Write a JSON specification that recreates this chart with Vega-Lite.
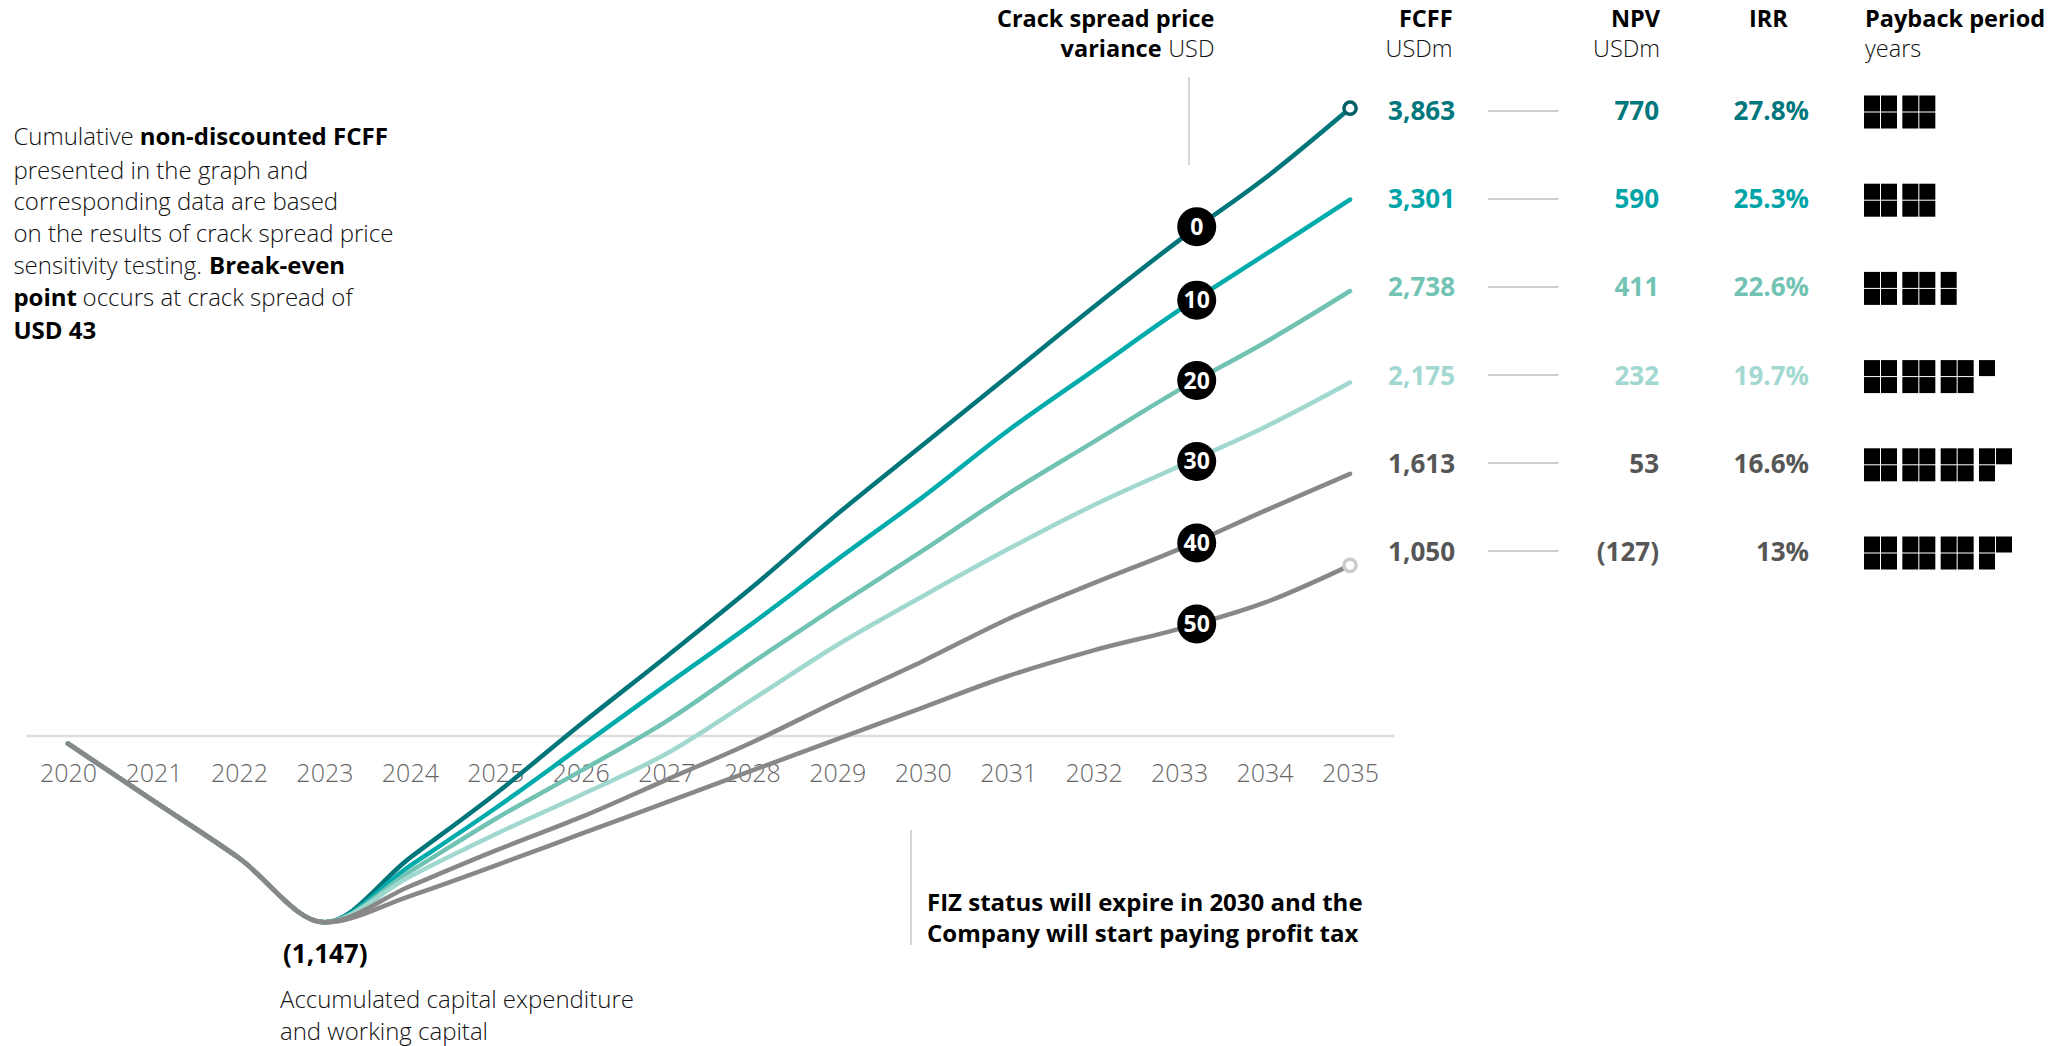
{
  "$schema": "https://vega.github.io/schema/vega-lite/v6.json",
  "width": 2071,
  "height": 1046,
  "autosize": {"type": "none"},
  "padding": 0,
  "background": "white",
  "config": {"view": {"stroke": null}, "font": "Open Sans"},
  "datasets": {
    "baseline": [{"from": 2019.513, "to": 2035.523, "value": 0}],
    "fcff": [
      {"variance": "0", "year": 2020, "value": -47}, {"variance": "0", "year": 2021, "value": -400}, {"variance": "0", "year": 2022, "value": -751}, {"variance": "0", "year": 2023, "value": -1147},
      {"variance": "0", "year": 2024, "value": -750}, {"variance": "0", "year": 2025, "value": -357}, {"variance": "0", "year": 2026, "value": 72}, {"variance": "0", "year": 2027, "value": 488},
      {"variance": "0", "year": 2028, "value": 913}, {"variance": "0", "year": 2029, "value": 1365}, {"variance": "0", "year": 2030, "value": 1790}, {"variance": "0", "year": 2031, "value": 2215},
      {"variance": "0", "year": 2032, "value": 2640}, {"variance": "0", "year": 2033, "value": 3050}, {"variance": "0", "year": 2034, "value": 3430}, {"variance": "0", "year": 2035, "value": 3863},
      {"variance": "10", "year": 2020, "value": -47}, {"variance": "10", "year": 2021, "value": -400}, {"variance": "10", "year": 2022, "value": -751}, {"variance": "10", "year": 2023, "value": -1147},
      {"variance": "10", "year": 2024, "value": -800}, {"variance": "10", "year": 2025, "value": -445}, {"variance": "10", "year": 2026, "value": -66}, {"variance": "10", "year": 2027, "value": 314},
      {"variance": "10", "year": 2028, "value": 690}, {"variance": "10", "year": 2029, "value": 1085}, {"variance": "10", "year": 2030, "value": 1470}, {"variance": "10", "year": 2031, "value": 1880},
      {"variance": "10", "year": 2032, "value": 2250}, {"variance": "10", "year": 2033, "value": 2620}, {"variance": "10", "year": 2034, "value": 2960}, {"variance": "10", "year": 2035, "value": 3301},
      {"variance": "20", "year": 2020, "value": -47}, {"variance": "20", "year": 2021, "value": -400}, {"variance": "20", "year": 2022, "value": -751}, {"variance": "20", "year": 2023, "value": -1147},
      {"variance": "20", "year": 2024, "value": -835}, {"variance": "20", "year": 2025, "value": -511}, {"variance": "20", "year": 2026, "value": -215}, {"variance": "20", "year": 2027, "value": 90},
      {"variance": "20", "year": 2028, "value": 450}, {"variance": "20", "year": 2029, "value": 800}, {"variance": "20", "year": 2030, "value": 1140}, {"variance": "20", "year": 2031, "value": 1490},
      {"variance": "20", "year": 2032, "value": 1810}, {"variance": "20", "year": 2033, "value": 2130}, {"variance": "20", "year": 2034, "value": 2420}, {"variance": "20", "year": 2035, "value": 2738},
      {"variance": "30", "year": 2020, "value": -47}, {"variance": "30", "year": 2021, "value": -400}, {"variance": "30", "year": 2022, "value": -751}, {"variance": "30", "year": 2023, "value": -1147},
      {"variance": "30", "year": 2024, "value": -865}, {"variance": "30", "year": 2025, "value": -605}, {"variance": "30", "year": 2026, "value": -363}, {"variance": "30", "year": 2027, "value": -110},
      {"variance": "30", "year": 2028, "value": 222}, {"variance": "30", "year": 2029, "value": 560}, {"variance": "30", "year": 2030, "value": 860}, {"variance": "30", "year": 2031, "value": 1150},
      {"variance": "30", "year": 2032, "value": 1420}, {"variance": "30", "year": 2033, "value": 1660}, {"variance": "30", "year": 2034, "value": 1900}, {"variance": "30", "year": 2035, "value": 2175},
      {"variance": "40", "year": 2020, "value": -47}, {"variance": "40", "year": 2021, "value": -400}, {"variance": "40", "year": 2022, "value": -751}, {"variance": "40", "year": 2023, "value": -1147},
      {"variance": "40", "year": 2024, "value": -925}, {"variance": "40", "year": 2025, "value": -706}, {"variance": "40", "year": 2026, "value": -500}, {"variance": "40", "year": 2027, "value": -270},
      {"variance": "40", "year": 2028, "value": -40}, {"variance": "40", "year": 2029, "value": 215}, {"variance": "40", "year": 2030, "value": 460}, {"variance": "40", "year": 2031, "value": 720},
      {"variance": "40", "year": 2032, "value": 940}, {"variance": "40", "year": 2033, "value": 1150}, {"variance": "40", "year": 2034, "value": 1385}, {"variance": "40", "year": 2035, "value": 1613},
      {"variance": "50", "year": 2020, "value": -47}, {"variance": "50", "year": 2021, "value": -400}, {"variance": "50", "year": 2022, "value": -751}, {"variance": "50", "year": 2023, "value": -1147},
      {"variance": "50", "year": 2024, "value": -985}, {"variance": "50", "year": 2025, "value": -798}, {"variance": "50", "year": 2026, "value": -603}, {"variance": "50", "year": 2027, "value": -409},
      {"variance": "50", "year": 2028, "value": -214}, {"variance": "50", "year": 2029, "value": -20}, {"variance": "50", "year": 2030, "value": 175}, {"variance": "50", "year": 2031, "value": 369},
      {"variance": "50", "year": 2032, "value": 527}, {"variance": "50", "year": 2033, "value": 659}, {"variance": "50", "year": 2034, "value": 820}, {"variance": "50", "year": 2035, "value": 1050}
    ],
    "ends": [{"variance": "0", "year": 2035, "value": 3863}, {"variance": "50", "year": 2035, "value": 1050}],
    "badges": [
      {"variance": "0", "year": 2033.206, "value": 3134}, {"variance": "10", "year": 2033.206, "value": 2682},
      {"variance": "20", "year": 2033.206, "value": 2187}, {"variance": "30", "year": 2033.206, "value": 1689},
      {"variance": "40", "year": 2033.206, "value": 1188}, {"variance": "50", "year": 2033.206, "value": 689}
    ],
    "vrules": [{"year": 2033.116, "top": 4055, "bottom": 3514}, {"year": 2029.863, "top": -578, "bottom": -1286}],
    "notes_light_left": [
      {"text": "Cumulative", "year": 2019.3612, "value": 3678},
      {"text": "presented in the graph and", "year": 2019.3612, "value": 3473},
      {"text": "corresponding data are based", "year": 2019.3612, "value": 3278},
      {"text": "on the results of crack spread price", "year": 2019.3612, "value": 3083},
      {"text": "sensitivity testing.", "year": 2019.3612, "value": 2888},
      {"text": "occurs at crack spread of", "year": 2020.171, "value": 2689},
      {"text": "Accumulated capital expenditure", "year": 2022.48, "value": -1631},
      {"text": "and working capital", "year": 2022.48, "value": -1831}
    ],
    "notes_bold_left": [
      {"text": "non-discounted FCFF", "year": 2020.839, "value": 3678},
      {"text": "Break-even", "year": 2021.65, "value": 2888},
      {"text": "point", "year": 2019.3612, "value": 2689},
      {"text": "USD 43", "year": 2019.3612, "value": 2488},
      {"text": "FIZ status will expire in 2030 and the", "year": 2030.05, "value": -1034},
      {"text": "Company will start paying profit tax", "year": 2030.05, "value": -1225}
    ],
    "notes_bold_large": [{"text": "(1,147)", "year": 2022.516, "value": -1348}],
    "head_bold_left": [
      {"text": "IRR", "year": 2039.668, "value": 4406},
      {"text": "Payback period", "year": 2041.025, "value": 4406}
    ],
    "head_light_left": [{"text": "years", "year": 2041.025, "value": 4222}],
    "head_bold_right": [
      {"text": "Crack spread price", "year": 2033.414, "value": 4406},
      {"text": "variance", "year": 2032.795, "value": 4222},
      {"text": "FCFF", "year": 2036.2, "value": 4406},
      {"text": "NPV", "year": 2038.627, "value": 4406}
    ],
    "head_light_right": [
      {"text": "USD", "year": 2033.414, "value": 4222},
      {"text": "USDm", "year": 2036.2, "value": 4222},
      {"text": "USDm", "year": 2038.627, "value": 4222}
    ],
    "table": [
      {"variance": "0", "fcff": "3,863", "npv": "770", "irr": "27.8%"},
      {"variance": "10", "fcff": "3,301", "npv": "590", "irr": "25.3%"},
      {"variance": "20", "fcff": "2,738", "npv": "411", "irr": "22.6%"},
      {"variance": "30", "fcff": "2,175", "npv": "232", "irr": "19.7%"},
      {"variance": "40", "fcff": "1,613", "npv": "53", "irr": "16.6%"},
      {"variance": "50", "fcff": "1,050", "npv": "(127)", "irr": "13%"}
    ],
    "payback": [
      {"variance": "0", "block": 0, "half": 0, "sub": 0}, {"variance": "0", "block": 0, "half": 1, "sub": 0}, {"variance": "0", "block": 0, "half": 0, "sub": 1}, {"variance": "0", "block": 0, "half": 1, "sub": 1},
      {"variance": "0", "block": 1, "half": 0, "sub": 0}, {"variance": "0", "block": 1, "half": 1, "sub": 0}, {"variance": "0", "block": 1, "half": 0, "sub": 1}, {"variance": "0", "block": 1, "half": 1, "sub": 1},
      {"variance": "10", "block": 0, "half": 0, "sub": 0}, {"variance": "10", "block": 0, "half": 1, "sub": 0}, {"variance": "10", "block": 0, "half": 0, "sub": 1}, {"variance": "10", "block": 0, "half": 1, "sub": 1},
      {"variance": "10", "block": 1, "half": 0, "sub": 0}, {"variance": "10", "block": 1, "half": 1, "sub": 0}, {"variance": "10", "block": 1, "half": 0, "sub": 1}, {"variance": "10", "block": 1, "half": 1, "sub": 1},
      {"variance": "20", "block": 0, "half": 0, "sub": 0}, {"variance": "20", "block": 0, "half": 1, "sub": 0}, {"variance": "20", "block": 0, "half": 0, "sub": 1}, {"variance": "20", "block": 0, "half": 1, "sub": 1},
      {"variance": "20", "block": 1, "half": 0, "sub": 0}, {"variance": "20", "block": 1, "half": 1, "sub": 0}, {"variance": "20", "block": 1, "half": 0, "sub": 1}, {"variance": "20", "block": 1, "half": 1, "sub": 1},
      {"variance": "20", "block": 2, "half": 0, "sub": 0}, {"variance": "20", "block": 2, "half": 0, "sub": 1},
      {"variance": "30", "block": 0, "half": 0, "sub": 0}, {"variance": "30", "block": 0, "half": 1, "sub": 0}, {"variance": "30", "block": 0, "half": 0, "sub": 1}, {"variance": "30", "block": 0, "half": 1, "sub": 1},
      {"variance": "30", "block": 1, "half": 0, "sub": 0}, {"variance": "30", "block": 1, "half": 1, "sub": 0}, {"variance": "30", "block": 1, "half": 0, "sub": 1}, {"variance": "30", "block": 1, "half": 1, "sub": 1},
      {"variance": "30", "block": 2, "half": 0, "sub": 0}, {"variance": "30", "block": 2, "half": 1, "sub": 0}, {"variance": "30", "block": 2, "half": 0, "sub": 1}, {"variance": "30", "block": 2, "half": 1, "sub": 1},
      {"variance": "30", "block": 3, "half": 0, "sub": 0},
      {"variance": "40", "block": 0, "half": 0, "sub": 0}, {"variance": "40", "block": 0, "half": 1, "sub": 0}, {"variance": "40", "block": 0, "half": 0, "sub": 1}, {"variance": "40", "block": 0, "half": 1, "sub": 1},
      {"variance": "40", "block": 1, "half": 0, "sub": 0}, {"variance": "40", "block": 1, "half": 1, "sub": 0}, {"variance": "40", "block": 1, "half": 0, "sub": 1}, {"variance": "40", "block": 1, "half": 1, "sub": 1},
      {"variance": "40", "block": 2, "half": 0, "sub": 0}, {"variance": "40", "block": 2, "half": 1, "sub": 0}, {"variance": "40", "block": 2, "half": 0, "sub": 1}, {"variance": "40", "block": 2, "half": 1, "sub": 1},
      {"variance": "40", "block": 3, "half": 0, "sub": 0}, {"variance": "40", "block": 3, "half": 1, "sub": 0}, {"variance": "40", "block": 3, "half": 0, "sub": 1},
      {"variance": "50", "block": 0, "half": 0, "sub": 0}, {"variance": "50", "block": 0, "half": 1, "sub": 0}, {"variance": "50", "block": 0, "half": 0, "sub": 1}, {"variance": "50", "block": 0, "half": 1, "sub": 1},
      {"variance": "50", "block": 1, "half": 0, "sub": 0}, {"variance": "50", "block": 1, "half": 1, "sub": 0}, {"variance": "50", "block": 1, "half": 0, "sub": 1}, {"variance": "50", "block": 1, "half": 1, "sub": 1},
      {"variance": "50", "block": 2, "half": 0, "sub": 0}, {"variance": "50", "block": 2, "half": 1, "sub": 0}, {"variance": "50", "block": 2, "half": 0, "sub": 1}, {"variance": "50", "block": 2, "half": 1, "sub": 1},
      {"variance": "50", "block": 3, "half": 0, "sub": 0}, {"variance": "50", "block": 3, "half": 1, "sub": 0}, {"variance": "50", "block": 3, "half": 0, "sub": 1}
    ]
  },
  "resolve": {"scale": {"x": "independent", "y": "independent", "color": "independent", "stroke": "independent"}, "axis": {"x": "independent", "y": "independent"}},
  "layer": [
    {
      "data": {"name": "baseline"},
      "mark": {"type": "rule", "color": "#DDDDDD", "strokeWidth": 2.5},
      "encoding": {
        "x": {"field": "from", "type": "quantitative", "scale": {"domain": [2019.2044, 2043.435], "nice": false, "zero": false}, "axis": null},
        "x2": {"field": "to"},
        "y": {"field": "value", "type": "quantitative", "scale": {"domain": [-1908, 4529], "nice": false, "zero": false}, "axis": null}
      }
    },
    {
      "data": {"name": "fcff"},
      "mark": {"type": "line", "interpolate": "monotone", "strokeWidth": 4.5, "strokeCap": "round", "strokeJoin": "round"},
      "encoding": {
        "x": {"field": "year", "type": "quantitative", "scale": {"domain": [2019.2044, 2043.435], "nice": false, "zero": false},
          "axis": {"orient": "bottom", "offset": -310, "values": [2020, 2021, 2022, 2023, 2024, 2025, 2026, 2027, 2028, 2029, 2030, 2031, 2032, 2033, 2034, 2035], "format": "d", "domain": false, "ticks": false, "tickSize": 0, "grid": false, "title": null, "labelFont": "Open Sans", "labelFontWeight": 300, "labelFontSize": 25, "labelColor": "#666666", "labelPadding": 37, "labelBaseline": "middle", "labelFlush": false, "labelOverlap": false}},
        "y": {"field": "value", "type": "quantitative", "scale": {"domain": [-1908, 4529], "nice": false, "zero": false}, "axis": null},
        "color": {"field": "variance", "type": "nominal", "scale": {"domain": ["0", "10", "20", "30", "40", "50"], "range": ["#00757A", "#00ABAB", "#70C3B3", "#A0D8D0", "#888888", "#888888"]}, "legend": null},
        "detail": {"field": "variance"}
      }
    },
    {
      "data": {"name": "ends"},
      "mark": {"type": "point", "shape": "circle", "filled": false, "fill": "white", "fillOpacity": 1, "size": 150, "strokeWidth": 3.5, "opacity": 1},
      "encoding": {
        "x": {"field": "year", "type": "quantitative", "scale": {"domain": [2019.2044, 2043.435], "nice": false, "zero": false}, "axis": null},
        "y": {"field": "value", "type": "quantitative", "scale": {"domain": [-1908, 4529], "nice": false, "zero": false}, "axis": null},
        "stroke": {"field": "variance", "type": "nominal", "scale": {"domain": ["0", "50"], "range": ["#005F64", "#CCCCCC"]}, "legend": null}
      }
    },
    {
      "data": {"name": "vrules"},
      "mark": {"type": "rule", "color": "#C8C8C8", "strokeWidth": 1.5},
      "encoding": {
        "x": {"field": "year", "type": "quantitative", "scale": {"domain": [2019.2044, 2043.435], "nice": false, "zero": false}, "axis": null},
        "y": {"field": "top", "type": "quantitative", "scale": {"domain": [-1908, 4529], "nice": false, "zero": false}, "axis": null},
        "y2": {"field": "bottom"}
      }
    },
    {
      "data": {"name": "badges"},
      "mark": {"type": "point", "shape": "circle", "filled": true, "color": "black", "size": 1520, "opacity": 1},
      "encoding": {
        "x": {"field": "year", "type": "quantitative", "scale": {"domain": [2019.2044, 2043.435], "nice": false, "zero": false}, "axis": null},
        "y": {"field": "value", "type": "quantitative", "scale": {"domain": [-1908, 4529], "nice": false, "zero": false}, "axis": null}
      }
    },
    {
      "data": {"name": "badges"},
      "mark": {"type": "text", "align": "center", "baseline": "middle", "color": "white", "font": "Open Sans", "fontWeight": 700, "fontSize": 23, "dy": 1},
      "encoding": {
        "x": {"field": "year", "type": "quantitative", "scale": {"domain": [2019.2044, 2043.435], "nice": false, "zero": false}, "axis": null},
        "y": {"field": "value", "type": "quantitative", "scale": {"domain": [-1908, 4529], "nice": false, "zero": false}, "axis": null},
        "text": {"field": "variance"}
      }
    },
    {
      "data": {"name": "notes_light_left"},
      "mark": {"type": "text", "align": "left", "baseline": "middle", "color": "#111111", "font": "Open Sans", "fontWeight": 300, "fontSize": 24},
      "encoding": {
        "x": {"field": "year", "type": "quantitative", "scale": {"domain": [2019.2044, 2043.435], "nice": false, "zero": false}, "axis": null},
        "y": {"field": "value", "type": "quantitative", "scale": {"domain": [-1908, 4529], "nice": false, "zero": false}, "axis": null},
        "text": {"field": "text"}
      }
    },
    {
      "data": {"name": "notes_bold_left"},
      "mark": {"type": "text", "align": "left", "baseline": "middle", "color": "black", "font": "Open Sans", "fontWeight": 700, "fontSize": 24},
      "encoding": {
        "x": {"field": "year", "type": "quantitative", "scale": {"domain": [2019.2044, 2043.435], "nice": false, "zero": false}, "axis": null},
        "y": {"field": "value", "type": "quantitative", "scale": {"domain": [-1908, 4529], "nice": false, "zero": false}, "axis": null},
        "text": {"field": "text"}
      }
    },
    {
      "data": {"name": "notes_bold_large"},
      "mark": {"type": "text", "align": "left", "baseline": "middle", "color": "black", "font": "Open Sans", "fontWeight": 700, "fontSize": 26},
      "encoding": {
        "x": {"field": "year", "type": "quantitative", "scale": {"domain": [2019.2044, 2043.435], "nice": false, "zero": false}, "axis": null},
        "y": {"field": "value", "type": "quantitative", "scale": {"domain": [-1908, 4529], "nice": false, "zero": false}, "axis": null},
        "text": {"field": "text"}
      }
    },
    {
      "data": {"name": "head_bold_left"},
      "mark": {"type": "text", "align": "left", "baseline": "middle", "color": "black", "font": "Open Sans", "fontWeight": 700, "fontSize": 23.5},
      "encoding": {
        "x": {"field": "year", "type": "quantitative", "scale": {"domain": [2019.2044, 2043.435], "nice": false, "zero": false}, "axis": null},
        "y": {"field": "value", "type": "quantitative", "scale": {"domain": [-1908, 4529], "nice": false, "zero": false}, "axis": null},
        "text": {"field": "text"}
      }
    },
    {
      "data": {"name": "head_light_left"},
      "mark": {"type": "text", "align": "left", "baseline": "middle", "color": "#111111", "font": "Open Sans", "fontWeight": 300, "fontSize": 23.5},
      "encoding": {
        "x": {"field": "year", "type": "quantitative", "scale": {"domain": [2019.2044, 2043.435], "nice": false, "zero": false}, "axis": null},
        "y": {"field": "value", "type": "quantitative", "scale": {"domain": [-1908, 4529], "nice": false, "zero": false}, "axis": null},
        "text": {"field": "text"}
      }
    },
    {
      "data": {"name": "head_bold_right"},
      "mark": {"type": "text", "align": "right", "baseline": "middle", "color": "black", "font": "Open Sans", "fontWeight": 700, "fontSize": 23.5},
      "encoding": {
        "x": {"field": "year", "type": "quantitative", "scale": {"domain": [2019.2044, 2043.435], "nice": false, "zero": false}, "axis": null},
        "y": {"field": "value", "type": "quantitative", "scale": {"domain": [-1908, 4529], "nice": false, "zero": false}, "axis": null},
        "text": {"field": "text"}
      }
    },
    {
      "data": {"name": "head_light_right"},
      "mark": {"type": "text", "align": "right", "baseline": "middle", "color": "#111111", "font": "Open Sans", "fontWeight": 300, "fontSize": 23.5},
      "encoding": {
        "x": {"field": "year", "type": "quantitative", "scale": {"domain": [2019.2044, 2043.435], "nice": false, "zero": false}, "axis": null},
        "y": {"field": "value", "type": "quantitative", "scale": {"domain": [-1908, 4529], "nice": false, "zero": false}, "axis": null},
        "text": {"field": "text"}
      }
    },
    {
      "data": {"name": "table"},
      "mark": {"type": "rule", "color": "#CFCFCF", "strokeWidth": 2},
      "encoding": {
        "x": {"datum": 2036.613, "type": "quantitative", "scale": {"domain": [2019.2044, 2043.435], "nice": false, "zero": false}, "axis": null},
        "x2": {"datum": 2037.438},
        "y": {"field": "variance", "type": "ordinal", "scale": {"type": "point", "domain": ["0", "10", "20", "30", "40", "50"], "range": [111, 551], "padding": 0}, "axis": null}
      }
    },
    {
      "data": {"name": "table"},
      "mark": {"type": "text", "align": "right", "baseline": "middle", "font": "Open Sans", "fontWeight": 700, "fontSize": 26},
      "encoding": {
        "x": {"datum": 2036.228, "type": "quantitative", "scale": {"domain": [2019.2044, 2043.435], "nice": false, "zero": false}, "axis": null},
        "y": {"field": "variance", "type": "ordinal", "scale": {"type": "point", "domain": ["0", "10", "20", "30", "40", "50"], "range": [112, 553], "padding": 0}, "axis": null},
        "text": {"field": "fcff"},
        "color": {"field": "variance", "type": "nominal", "scale": {"domain": ["0", "10", "20", "30", "40", "50"], "range": ["#00777C", "#00A4A7", "#72C3B3", "#A2D8D1", "#565656", "#565656"]}, "legend": null}
      }
    },
    {
      "data": {"name": "table"},
      "mark": {"type": "text", "align": "right", "baseline": "middle", "font": "Open Sans", "fontWeight": 700, "fontSize": 26},
      "encoding": {
        "x": {"datum": 2038.615, "type": "quantitative", "scale": {"domain": [2019.2044, 2043.435], "nice": false, "zero": false}, "axis": null},
        "y": {"field": "variance", "type": "ordinal", "scale": {"type": "point", "domain": ["0", "10", "20", "30", "40", "50"], "range": [112, 553], "padding": 0}, "axis": null},
        "text": {"field": "npv"},
        "color": {"field": "variance", "type": "nominal", "scale": {"domain": ["0", "10", "20", "30", "40", "50"], "range": ["#00777C", "#00A4A7", "#72C3B3", "#A2D8D1", "#565656", "#565656"]}, "legend": null}
      }
    },
    {
      "data": {"name": "table"},
      "mark": {"type": "text", "align": "right", "baseline": "middle", "font": "Open Sans", "fontWeight": 700, "fontSize": 26},
      "encoding": {
        "x": {"datum": 2040.37, "type": "quantitative", "scale": {"domain": [2019.2044, 2043.435], "nice": false, "zero": false}, "axis": null},
        "y": {"field": "variance", "type": "ordinal", "scale": {"type": "point", "domain": ["0", "10", "20", "30", "40", "50"], "range": [112, 553], "padding": 0}, "axis": null},
        "text": {"field": "irr"},
        "color": {"field": "variance", "type": "nominal", "scale": {"domain": ["0", "10", "20", "30", "40", "50"], "range": ["#00777C", "#00A4A7", "#72C3B3", "#A2D8D1", "#565656", "#565656"]}, "legend": null}
      }
    },
    {
      "data": {"name": "payback"},
      "mark": {"type": "square", "size": 256, "color": "black", "filled": true, "opacity": 1, "strokeWidth": 0},
      "encoding": {
        "x": {"field": "block", "type": "ordinal", "scale": {"type": "point", "domain": [0, 1, 2, 3], "range": [1872, 1987], "padding": 0}, "axis": null},
        "xOffset": {"field": "half", "type": "quantitative", "scale": {"domain": [0, 1], "range": [0, 17]}},
        "y": {"field": "variance", "type": "ordinal", "scale": {"type": "point", "domain": ["0", "10", "20", "30", "40", "50"], "range": [112, 553], "padding": 0}, "axis": null},
        "yOffset": {"field": "sub", "type": "quantitative", "scale": {"domain": [0, 1], "range": [-8.5, 8.5]}}
      }
    }
  ]
}
